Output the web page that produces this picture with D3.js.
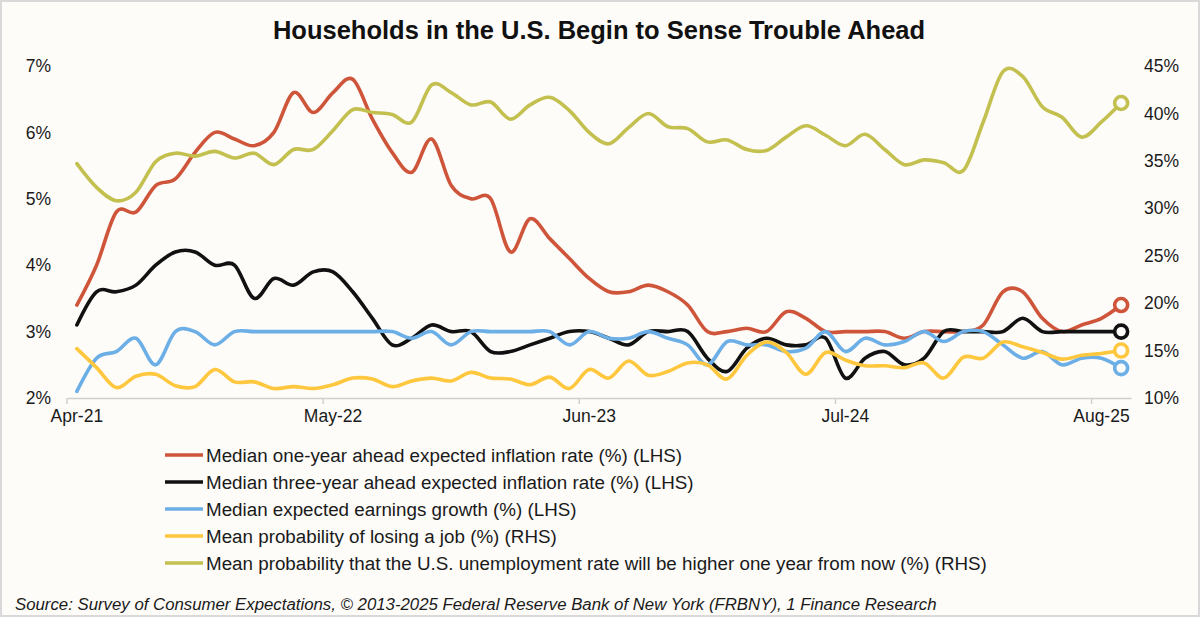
<!DOCTYPE html>
<html>
<head>
<meta charset="utf-8">
<script src="https://cdn.jsdelivr.net/npm/d3@7.9.0/dist/d3.min.js"></script>
<style>
  html, body { margin: 0; padding: 0; background: #fdfcf9; }
  svg { display: block; font-family: "Liberation Sans", Arial, sans-serif; }
</style>
</head>
<body>
<svg id="chart" width="1200" height="617"></svg>
<script>
// monthly survey readings, Apr-21 .. Sep-25
const oneYear = [3.4, 4.0, 4.8, 4.8, 5.2, 5.3, 5.7, 6.0, 5.9, 5.8, 6.0, 6.6, 6.3, 6.6, 6.8, 6.2, 5.7, 5.4, 5.9, 5.2,
  5.0, 5.0, 4.2, 4.7, 4.4, 4.1, 3.8, 3.6, 3.6, 3.7, 3.6, 3.4, 3.0, 3.0, 3.05, 3.0, 3.3, 3.2, 3.0, 3.0,
  3.0, 3.0, 2.9, 3.0, 3.0, 3.0, 3.1, 3.6, 3.6, 3.2, 3.0, 3.1, 3.2, 3.4];
const threeYear = [3.1, 3.6, 3.6, 3.7, 4.0, 4.2, 4.2, 4.0, 4.0, 3.5, 3.8, 3.7, 3.9, 3.9, 3.6, 3.2, 2.8, 2.9, 3.1, 3.0,
  3.0, 2.7, 2.7, 2.8, 2.9, 3.0, 3.0, 2.9, 2.8, 3.0, 3.0, 3.0, 2.6, 2.4, 2.75, 2.9, 2.8, 2.8, 2.9, 2.3,
  2.6, 2.7, 2.5, 2.6, 3.0, 3.0, 3.0, 3.0, 3.2, 3.0, 3.0, 3.0, 3.0, 3.0];
const earnings = [2.1, 2.6, 2.7, 2.9, 2.5, 3.0, 3.0, 2.8, 3.0, 3.0, 3.0, 3.0, 3.0, 3.0, 3.0, 3.0, 3.0, 2.9, 3.0, 2.8,
  3.0, 3.0, 3.0, 3.0, 3.0, 2.8, 3.0, 2.9, 2.9, 3.0, 2.9, 2.8, 2.5, 2.85, 2.8, 2.8, 2.7, 2.75, 3.0, 2.7,
  2.9, 2.8, 2.85, 3.0, 2.85, 3.0, 3.0, 2.8, 2.6, 2.7, 2.5, 2.6, 2.6, 2.45];
const jobLoss = [15.2, 13.2, 11.1, 12.3, 12.5, 11.3, 11.2, 13.0, 11.7, 11.7, 11.0, 11.2, 11.0, 11.4, 12.1, 12.0, 11.2, 11.8, 12.1, 11.8,
  12.7, 12.1, 12.0, 11.4, 12.2, 11.0, 13.0, 12.1, 13.9, 12.4, 12.8, 13.7, 13.5, 12.0, 14.5, 15.9, 14.8, 12.5, 14.8, 14.0,
  13.4, 13.4, 13.2, 13.7, 12.1, 14.3, 14.2, 15.9, 15.4, 14.8, 14.1, 14.5, 14.7, 15.0];
const unempHigher = [34.7, 32.2, 30.8, 31.7, 34.9, 35.8, 35.5, 36.0, 35.3, 35.8, 34.6, 36.2, 36.2, 38.2, 40.4, 40.1, 39.9, 39.1, 43.0, 42.2,
  40.9, 41.2, 39.4, 40.9, 41.7, 40.3, 38.0, 36.8, 38.5, 40.0, 38.6, 38.4, 37.0, 37.2, 36.2, 36.1, 37.5, 38.7, 37.7, 36.6,
  37.8, 36.2, 34.6, 35.1, 34.8, 34.0, 39.1, 44.4, 43.9, 40.7, 39.6, 37.5, 39.1, 41.1];

const months = d3.timeMonth.range(new Date(2021, 3, 1), new Date(2025, 9, 1));
const tickLabels = ["Apr-21", "May-22", "Jun-23", "Jul-24", "Aug-25"];
const leftTicks = [2, 3, 4, 5, 6, 7];
const rightTicks = [10, 15, 20, 25, 30, 35, 40, 45];

const series = [
  { name: "Median one-year ahead expected inflation rate (%) (LHS)", values: oneYear, color: "#cf553a", axis: "L" },
  { name: "Median three-year ahead expected inflation rate (%) (LHS)", values: threeYear, color: "#111111", axis: "L" },
  { name: "Median expected earnings growth (%) (LHS)", values: earnings, color: "#6caee6", axis: "L" },
  { name: "Mean probability of losing a job (%) (RHS)", values: jobLoss, color: "#fec73e", axis: "R" },
  { name: "Mean probability that the U.S. unemployment rate will be higher one year from now (%) (RHS)", values: unempHigher, color: "#c3c04f", axis: "R" }
];

const fmt = d3.timeFormat("%b-%y");
const svg = d3.select("#chart");
const bg = "#fdfcf9";

svg.append("rect")
  .attr("x", 1).attr("y", 1).attr("width", 1198).attr("height", 615)
  .attr("fill", bg).attr("stroke", "#d9d9d9").attr("stroke-width", 2);

svg.append("text")
  .attr("x", 599).attr("y", 39)
  .attr("text-anchor", "middle")
  .attr("font-size", 25.5).attr("font-weight", "bold").attr("fill", "#111")
  .text("Households in the U.S. Begin to Sense Trouble Ahead");

const x = d3.scaleBand().domain(months.map(fmt)).range([67, 1131]);
const cx = (i) => x(fmt(months[i])) + x.bandwidth() / 2;
const yL = d3.scaleLinear().domain([2, 7]).range([398, 66]);
const yR = d3.scaleLinear().domain([10, 45]).range([398, 66]);

// left axis
const gL = svg.append("g")
  .attr("transform", "translate(51,0)")
  .call(d3.axisLeft(yL).tickValues(leftTicks).tickFormat((d) => d + "%").tickSize(0).tickPadding(0));
gL.select(".domain").remove();

// right axis
const gR = svg.append("g")
  .attr("transform", "translate(1144,0)")
  .call(d3.axisRight(yR).tickValues(rightTicks).tickFormat((d) => d + "%").tickSize(0).tickPadding(0));
gR.select(".domain").remove();

// x axis: labels under categories, tick marks between categories
const gX = svg.append("g")
  .attr("transform", "translate(0,398)")
  .call(d3.axisBottom(x).tickValues(tickLabels).tickSize(0).tickPadding(12));
gX.select(".domain").attr("stroke", "#d0d0d0").attr("stroke-width", 1.5);

gX.selectAll(".edge")
  .data(tickLabels)
  .join("line")
  .attr("class", "edge")
  .attr("x1", (d) => x(d)).attr("x2", (d) => x(d))
  .attr("y1", 0).attr("y2", 6)
  .attr("stroke", "#d0d0d0").attr("stroke-width", 1.5);

svg.selectAll(".tick text")
  .attr("font-size", 17.5)
  .attr("fill", "#1a1a1a")
  .attr("font-family", "'Liberation Sans', Arial, sans-serif");

// lines
series.forEach((s) => {
  const y = s.axis === "L" ? yL : yR;
  const line = d3.line()
    .x((d, i) => cx(i))
    .y((d) => y(d))
    .curve(d3.curveCardinal.tension(0));

  svg.append("path")
    .datum(s.values)
    .attr("d", line)
    .attr("fill", "none")
    .attr("stroke", s.color)
    .attr("stroke-width", 3.6)
    .attr("stroke-linejoin", "round")
    .attr("stroke-linecap", "round");

  const last = s.values.length - 1;
  svg.append("circle")
    .attr("cx", cx(last))
    .attr("cy", y(s.values[last]))
    .attr("r", 6.5)
    .attr("fill", bg)
    .attr("stroke", s.color)
    .attr("stroke-width", 3.6);
});

// legend
const legend = svg.append("g").attr("transform", "translate(165,455)");
const rows = legend.selectAll("g")
  .data(series)
  .join("g")
  .attr("transform", (d, i) => `translate(0,${i * 27})`);

rows.append("line")
  .attr("x1", 0).attr("x2", 38)
  .attr("stroke", (d) => d.color)
  .attr("stroke-width", 3.6);

rows.append("text")
  .attr("x", 41).attr("y", 6.5)
  .attr("font-size", 18.8).attr("fill", "#1a1a1a")
  .text((d) => d.name);

svg.append("text")
  .attr("x", 15).attr("y", 610)
  .attr("font-size", 16.8).attr("font-style", "italic").attr("fill", "#1a1a1a")
  .text("Source:  Survey of Consumer Expectations, \u00a9 2013-2025 Federal Reserve Bank of New York (FRBNY), 1 Finance Research");
</script>
</body>
</html>
